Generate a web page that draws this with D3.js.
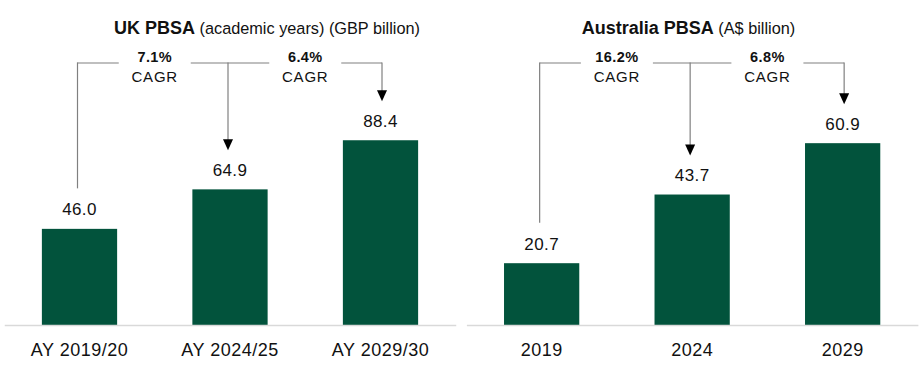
<!DOCTYPE html>
<html>
<head>
<meta charset="utf-8">
<script src="https://cdn.jsdelivr.net/npm/d3@7"></script>
<style>
  html, body { margin: 0; padding: 0; background: #ffffff; }
  svg { display: block; font-family: Arial, "Liberation Sans", sans-serif; }
</style>
</head>
<body>
<svg id="chart" width="924" height="376"></svg>
<script>
// ---- Data ----
const ukCategories = ["AY 2019/20", "AY 2024/25", "AY 2029/30"];
const ukValues = [46.0, 64.9, 88.4];
const ukCagr = ["7.1%", "6.4%"];
const ukTitleBold = "UK PBSA";
const ukTitleRest = " (academic years) (GBP billion)";

const auCategories = ["2019", "2024", "2029"];
const auValues = [20.7, 43.7, 60.9];
const auCagr = ["16.2%", "6.8%"];
const auTitleBold = "Australia PBSA";
const auTitleRest = " (A$ billion)";

// ---- Drawing ----
const svg = d3.select("#chart");
const barColor = "#02533c";
const lineColor = "#808080";
const baseY = 325;
const bracketY = 63;

function panel(cfg) {
  const g = svg.append("g");
  const x = d3.scaleBand().domain(cfg.categories).range(cfg.xRange)
    .paddingInner(0.5).paddingOuter(0.25);
  const y = d3.scaleLinear().domain(cfg.yDomain).range([baseY, 116]);

  // bars
  g.selectAll("rect.bar").data(cfg.values).join("rect")
    .attr("class", "bar")
    .attr("x", (d, i) => x(cfg.categories[i]))
    .attr("width", x.bandwidth())
    .attr("y", d => y(d))
    .attr("height", d => y(0) - y(d))
    .attr("fill", barColor);

  // axis
  const axis = g.append("g").attr("transform", `translate(0,${baseY})`)
    .call(d3.axisBottom(x).tickSize(0).tickSizeOuter(0).tickPadding(18));
  axis.select(".domain").attr("stroke", "#d9d9d9").attr("stroke-width", 1.5);
  axis.selectAll("text").attr("font-size", 18).attr("fill", "#111")
    .attr("letter-spacing", "0.5px")
    .style("font-family", "Arial, 'Liberation Sans', sans-serif");

  // value labels
  g.selectAll("text.val").data(cfg.values).join("text")
    .attr("class", "val")
    .attr("x", (d, i) => x(cfg.categories[i]) + x.bandwidth() / 2)
    .attr("y", d => y(d) - 13.5)
    .attr("text-anchor", "middle")
    .attr("font-size", 17)
    .attr("letter-spacing", "0.4px")
    .attr("fill", "#111")
    .text(d => d.toFixed(1));

  // bracket
  const offs = [-2, -2, 1.5];
  const cx = cfg.categories.map((c, i) => x(c) + x.bandwidth() / 2 + offs[i]);
  const labelBase = cfg.values.map(v => y(v) - 13.5);
  const gap = 36;
  const mids = [ (x(cfg.categories[0]) + x(cfg.categories[1])) / 2 + x.bandwidth() / 2,
                 (x(cfg.categories[1]) + x(cfg.categories[2])) / 2 + x.bandwidth() / 2 ];

  const lines = [
    [cx[0], mids[0] - gap],
    [mids[0] + gap, mids[1] - gap],
    [mids[1] + gap, cx[2]]
  ];
  lines.forEach(([a, b]) => {
    g.append("line").attr("x1", a).attr("x2", b).attr("y1", bracketY).attr("y2", bracketY)
      .attr("stroke", lineColor).attr("stroke-width", 1.2);
  });
  // verticals
  g.append("line").attr("x1", cx[0]).attr("x2", cx[0])
    .attr("y1", bracketY - 0.6).attr("y2", labelBase[0] - 27)
    .attr("stroke", lineColor).attr("stroke-width", 1.2);
  [1, 2].forEach(i => {
    const tip = labelBase[i] - 25.5;
    g.append("line").attr("x1", cx[i]).attr("x2", cx[i])
      .attr("y1", bracketY - 0.6).attr("y2", tip - 10)
      .attr("stroke", lineColor).attr("stroke-width", 1.2);
    g.append("path")
      .attr("d", `M${cx[i] - 5},${tip - 11} L${cx[i] + 5},${tip - 11} L${cx[i]},${tip} Z`)
      .attr("fill", "#000");
  });

  // CAGR labels
  cfg.cagr.forEach((c, i) => {
    g.append("text").attr("x", mids[i]).attr("y", 61.5)
      .attr("text-anchor", "middle").attr("font-size", 14.5).attr("font-weight", "bold")
      .attr("letter-spacing", "0.4px").attr("fill", "#111").text(c);
    g.append("text").attr("x", mids[i]).attr("y", 81.5)
      .attr("text-anchor", "middle").attr("font-size", 15)
      .attr("letter-spacing", "0.8px").attr("fill", "#111").text("CAGR");
  });

  // title
  const t = g.append("text").attr("x", cfg.titleX).attr("y", 34)
    .attr("text-anchor", "middle").attr("fill", "#111");
  t.append("tspan").attr("font-weight", "bold").attr("font-size", 18).text(cfg.titleBold);
  t.append("tspan").attr("font-size", 16.3).text(cfg.titleRest);
}

panel({
  categories: ukCategories, values: ukValues, cagr: ukCagr,
  xRange: [4.25, 455.75], yDomain: [0, 100],
  titleBold: ukTitleBold, titleRest: ukTitleRest, titleX: 267
});
panel({
  categories: auCategories, values: auValues, cagr: auCagr,
  xRange: [466.4, 917.9], yDomain: [0, 70],
  titleBold: auTitleBold, titleRest: auTitleRest, titleX: 688.5
});
</script>
</body>
</html>
